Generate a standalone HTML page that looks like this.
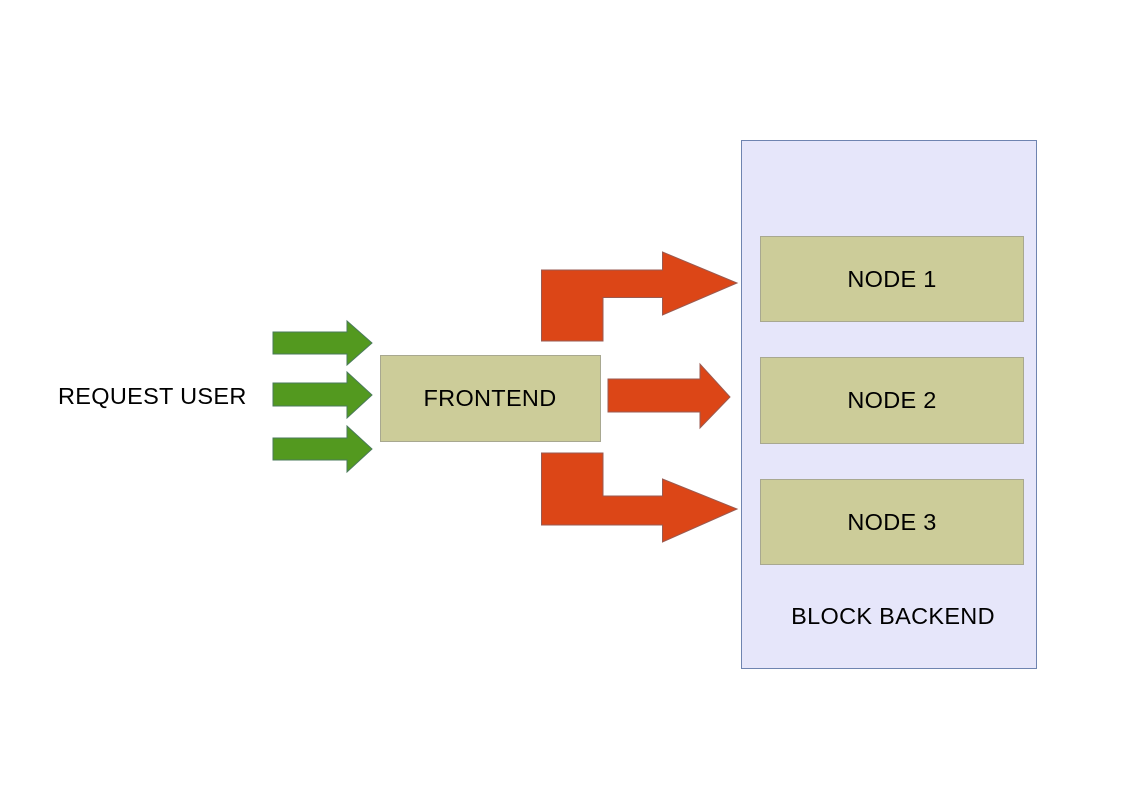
<!DOCTYPE html>
<html><head><meta charset="utf-8"><style>html,body{margin:0;padding:0;background:#fff}svg{display:block}</style></head>
<body>
<svg width="1123" height="794" viewBox="0 0 1123 794" xmlns="http://www.w3.org/2000/svg" font-family="Liberation Sans, sans-serif">
<rect x="741.5" y="140.5" width="295" height="528" fill="#e6e6fa" stroke="#6f84b0" stroke-width="1"/>
<g fill="#cccc99" stroke="#a8a890" stroke-width="1">
<rect x="380.5" y="355.5" width="220" height="86"/>
<rect x="760.5" y="236.5" width="263" height="85"/>
<rect x="760.5" y="357.5" width="263" height="86"/>
<rect x="760.5" y="479.5" width="263" height="85"/>
</g>
<g fill="#53991f" stroke="#4a7a5a" stroke-width="1">
<polygon points="273,332 347,332 347,321 372,343 347,365 347,354 273,354"/>
<polygon points="273,383 347,383 347,372 372,395 347,418 347,406 273,406"/>
<polygon points="273,438 347,438 347,426 372,449 347,472 347,460 273,460"/>
</g>
<g fill="#dc4617" stroke="#9a5a50" stroke-width="1">
<polygon points="541.5,341 541.5,270 662.5,270 662.5,252 737,283 662.5,315 662.5,297.5 603,297.5 603,341"/>
<polygon points="608,379 700,379 700,364 730,397 700,428 700,412 608,412"/>
<polygon points="541.5,453 603,453 603,496 662.5,496 662.5,479 737,509 662.5,542 662.5,525 541.5,525"/>
</g>
<g fill="#000" font-size="23.5" letter-spacing="0.3">
<text x="58" y="404">REQUEST USER</text>
<text x="490" y="406" text-anchor="middle">FRONTEND</text>
<text x="892" y="287" text-anchor="middle">NODE 1</text>
<text x="892" y="408" text-anchor="middle">NODE 2</text>
<text x="892" y="530" text-anchor="middle">NODE 3</text>
<text x="893" y="624" text-anchor="middle">BLOCK BACKEND</text>
</g>
</svg>
</body></html>
